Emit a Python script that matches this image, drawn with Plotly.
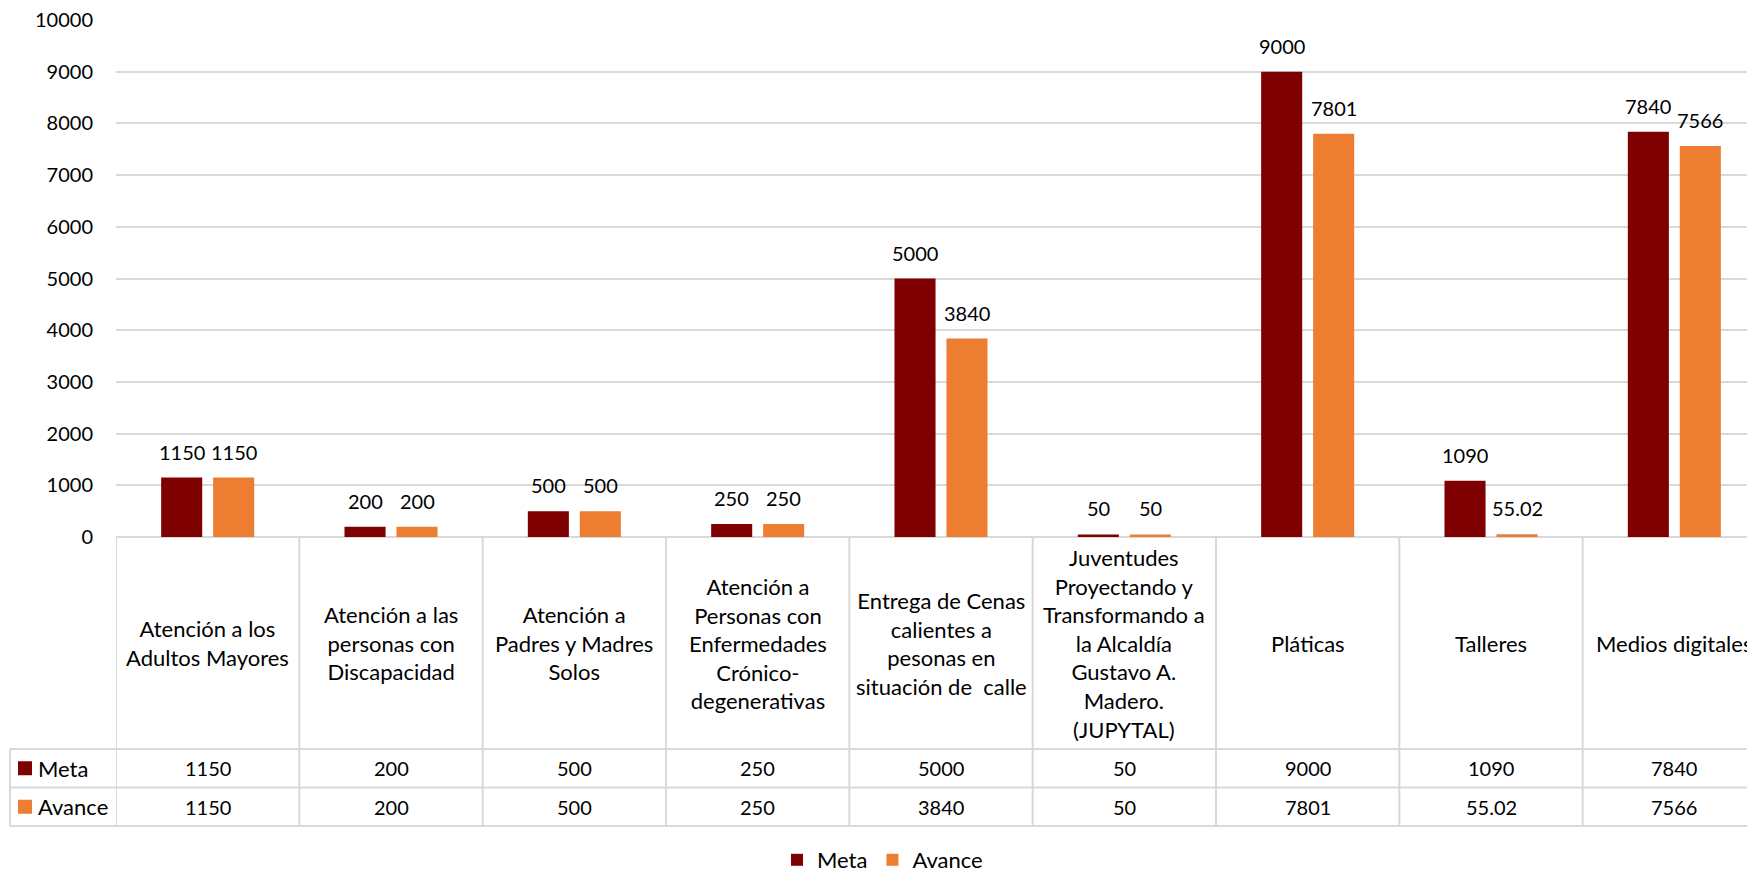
import plotly.graph_objects as go

categories = [
    "Atención a los\nAdultos Mayores",
    "Atención a las\npersonas con\nDiscapacidad",
    "Atención a\nPadres y Madres\nSolos",
    "Atención a\nPersonas con\nEnfermedades\nCrónico-\ndegenerativas",
    "Entrega de Cenas\ncalientes a\npesonas en\nsituación de  calle",
    "Juventudes\nProyectando y\nTransformando a\nla Alcaldía\nGustavo A.\nMadero.\n(JUPYTAL)",
    "Pláticas",
    "Talleres",
    "Medios digitales",
]
meta = [1150, 200, 500, 250, 5000, 50, 9000, 1090, 7840]
avance = [1150, 200, 500, 250, 3840, 50, 7801, 55.02, 7566]
meta_labels = ["1150", "200", "500", "250", "5000", "50", "9000", "1090", "7840"]
avance_labels = ["1150", "200", "500", "250", "3840", "50", "7801", "55.02", "7566"]
y_ticks = list(range(0, 10001, 1000))

META_COLOR = "#7F0000"
AVANCE_COLOR = "#ED7D31"
GRID = "#D9D9D9"
FONT = "Lato"
FS_TXT = 22
FS_NUM = 20

OFF = 8  # page body margin
W, H = 1758, 870
L, T = 116 - OFF, 20 - OFF
PLOT_BOTTOM = 537 - OFF
PLOT_H = PLOT_BOTTOM - T
PLOT_W = W - L


def py(page_px):
    return (PLOT_BOTTOM - (page_px - OFF)) / PLOT_H


def pxx(page_px):
    return ((page_px - OFF) - L) / PLOT_W


n = len(categories)
x = list(range(n))

fig = go.Figure()
fig.add_trace(go.Bar(name="Meta", x=x, y=meta, marker=dict(color=META_COLOR, line=dict(width=0))))
fig.add_trace(go.Bar(name="Avance", x=x, y=avance, marker=dict(color=AVANCE_COLOR, line=dict(width=0))))

txt_font = dict(family=FONT, size=FS_TXT, color="#000")
num_font = dict(family=FONT, size=FS_NUM, color="#000")
annotations = []
# data labels
for i in range(n):
    annotations.append(dict(x=i, y=meta[i], xref="x", yref="y", text=meta_labels[i],
                            showarrow=False, xshift=-26, yshift=26, yanchor="middle", font=num_font))
    annotations.append(dict(x=i, y=avance[i], xref="x", yref="y", text=avance_labels[i],
                            showarrow=False, xshift=26, yshift=26, yanchor="middle", font=num_font))

# table rows (page pixel positions)
ROW_CAT_TOP, ROW_META_TOP, ROW_AV_TOP, ROW_END = 537, 749, 787.5, 826
for i in range(n):
    annotations.append(dict(x=i, y=py((ROW_CAT_TOP + ROW_META_TOP) / 2), xref="x", yref="paper",
                            text=categories[i].replace("\n", "<br>"), showarrow=False,
                            xanchor="center", yanchor="middle", align="center", font=txt_font))
    annotations.append(dict(x=i, y=py((ROW_META_TOP + ROW_AV_TOP) / 2), xref="x", yref="paper",
                            text=meta_labels[i], showarrow=False, yanchor="middle", font=num_font))
    annotations.append(dict(x=i, y=py((ROW_AV_TOP + ROW_END) / 2), xref="x", yref="paper",
                            text=avance_labels[i], showarrow=False, yanchor="middle", font=num_font))

shapes = []
line = dict(color=GRID, width=2)
shapes.append(dict(type="line", xref="paper", yref="paper", x0=0, x1=1.01,
                   y0=py(ROW_CAT_TOP), y1=py(ROW_CAT_TOP), line=line, layer="below"))
for yy in (ROW_META_TOP, ROW_AV_TOP, ROW_END):
    shapes.append(dict(type="line", xref="paper", yref="paper", x0=pxx(10), x1=1.01,
                       y0=py(yy), y1=py(yy), line=line))
for i in range(n + 1):
    shapes.append(dict(type="line", xref="x", yref="paper", x0=i - 0.5, x1=i - 0.5,
                       y0=py(ROW_CAT_TOP), y1=py(ROW_END), line=line))
shapes.append(dict(type="line", xref="paper", yref="paper", x0=pxx(10), x1=pxx(10),
                   y0=py(ROW_META_TOP), y1=py(ROW_END), line=line))

# row legend keys
for (top, bot), color, name in (((ROW_META_TOP, ROW_AV_TOP), META_COLOR, "Meta"),
                                ((ROW_AV_TOP, ROW_END), AVANCE_COLOR, "Avance")):
    c = (top + bot) / 2
    shapes.append(dict(type="rect", xref="paper", yref="paper", x0=pxx(18), x1=pxx(32),
                       y0=py(c + 7), y1=py(c - 7), fillcolor=color, line=dict(width=0)))
    annotations.append(dict(x=pxx(36), y=py(c), xref="paper", yref="paper", text=name,
                            showarrow=False, xanchor="left", yanchor="middle", font=txt_font))

fig.update_layout(
    width=W, height=H,
    margin=dict(l=L, r=0, t=T, b=H - PLOT_BOTTOM, autoexpand=False),
    paper_bgcolor="white", plot_bgcolor="white",
    barmode="group", bargap=0.433, bargroupgap=0.21,
    font=txt_font,
    xaxis=dict(range=[-0.5, n - 0.5], showticklabels=False, showgrid=False,
               zeroline=False, showline=False, fixedrange=True),
    yaxis=dict(range=[0, 10002], tickvals=y_ticks, ticktext=[str(v) for v in y_ticks],
               showgrid=True, gridcolor=GRID, gridwidth=2, zeroline=False, showline=False,
               ticks="", ticklabelstandoff=22, ticklabeloverflow="allow", tickfont=num_font),
    showlegend=True,
    legend=dict(orientation="h", x=pxx(777), xanchor="left", y=py(860), yanchor="middle",
                font=txt_font, bgcolor="rgba(0,0,0,0)", itemwidth=30, tracegroupgap=0),
    annotations=annotations,
    shapes=shapes,
)

fig.write_html("out.html")
